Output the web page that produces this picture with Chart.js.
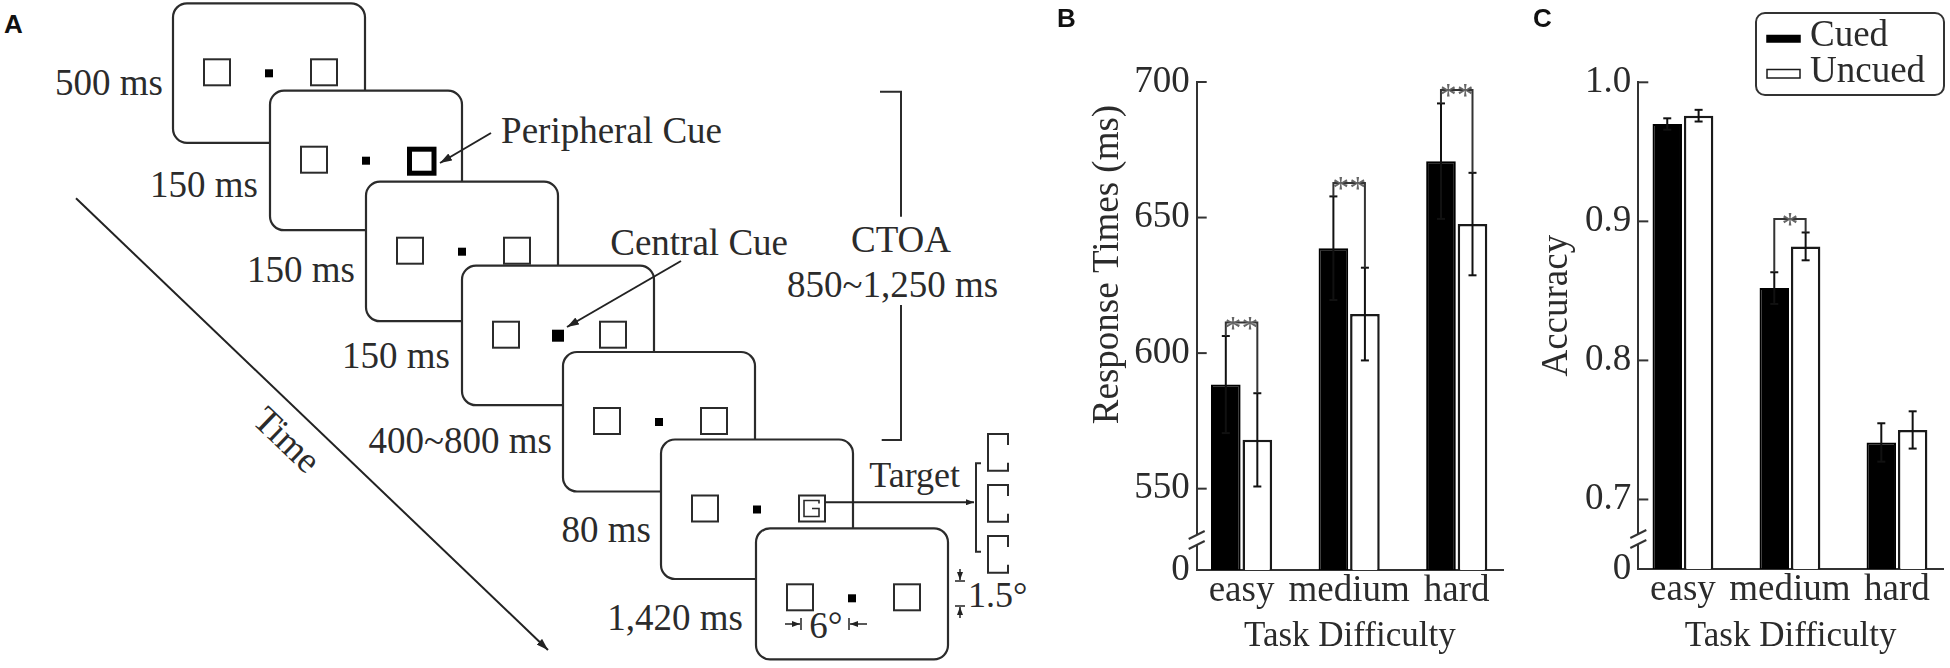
<!DOCTYPE html>
<html>
<head>
<meta charset="utf-8">
<title>Cueing task: response times and accuracy</title>
<script src="https://cdn.jsdelivr.net/npm/chart.js@4.4.1/dist/chart.umd.min.js"></script>
<style>
  html, body { margin: 0; padding: 0; background: #fff; }
  #fig { position: relative; width: 1950px; height: 668px; overflow: hidden; }
  #fig canvas, #fig svg { position: absolute; top: 0; }
  .tag { position: absolute; font: bold 26px 'Liberation Sans', Arial, sans-serif; line-height: 26px; color: #111; }
</style>
</head>
<body>
<div id="fig">
  <svg id="schema" width="1040" height="668" style="left:0"></svg>
  <canvas id="rtChart" width="470" height="668" style="left:1040px"></canvas>
  <canvas id="accChart" width="440" height="668" style="left:1510px"></canvas>
  <div class="tag" style="left:4px;top:11px">A</div>
  <div class="tag" style="left:1057px;top:5px">B</div>
  <div class="tag" style="left:1533px;top:5px">C</div>
</div>
<script>
// values
var categories = ['easy', 'medium', 'hard'];
var seriesNames = ['Cued', 'Uncued'];

var rtCued = [588.4, 638.7, 670.8];
var rtUncued = [568.0, 614.4, 647.6];
var rtCuedErr = [17.9, 19.1, 21.3];
var rtUncuedErr = [17.2, 17.1, 18.9];
var rtSig = ['**', '**', '**'];
var rtTicks = [550, 600, 650, 700];

var accCued = [0.970, 0.852, 0.741];
var accUncued = [0.976, 0.882, 0.750];
var accCuedErr = [0.0041, 0.0114, 0.0138];
var accUncuedErr = [0.0042, 0.0100, 0.0134];
var accSig = ['', '*', ''];
var accTicks = [0.7, 0.8, 0.9, 1.0];

var SERIF = "'Liberation Serif', 'Times New Roman', serif";
var INK = '#2b2b2b';
var AXIS = '#333';

function stroke(ctx, pts) {
  ctx.beginPath();
  ctx.moveTo(pts[0], pts[1]);
  for (var k = 2; k < pts.length; k += 2) ctx.lineTo(pts[k], pts[k + 1]);
  ctx.stroke();
}

// error bars, inner ticks, brackets, axis break, y title, legend
function decorations(p) {
  return {
    id: 'decorations',
    afterDatasetsDraw: function (chart) {
      var ctx = chart.ctx, ys = chart.scales.y, area = chart.chartArea;
      var means = [p.cued, p.uncued], errs = [p.cuedErr, p.uncuedErr];
      var bars = [chart.getDatasetMeta(0).data, chart.getDatasetMeta(1).data];
      ctx.save();
      ctx.lineWidth = 2;
      ctx.strokeStyle = AXIS;

      p.ticks.forEach(function (v) {
        var py = ys.getPixelForValue(v);
        stroke(ctx, [area.left, py, area.left + 10, py]);
      });

      ctx.strokeStyle = '#111';
      for (var d = 0; d < 2; d++) {
        for (var i = 0; i < bars[d].length; i++) {
          var x = bars[d][i].x;
          var hi = ys.getPixelForValue(means[d][i] + errs[d][i]);
          var lo = ys.getPixelForValue(means[d][i] - errs[d][i]);
          stroke(ctx, [x, hi, x, lo]);
          stroke(ctx, [x - 4, hi, x + 4, hi]);
          stroke(ctx, [x - 4, lo, x + 4, lo]);
        }
      }

      p.sig.forEach(function (s, i) {
        if (!s) return;
        var x0 = bars[0][i].x, x1 = bars[1][i].x;
        var t0 = ys.getPixelForValue(p.cued[i] + p.cuedErr[i]);
        var t1 = ys.getPixelForValue(p.uncued[i] + p.uncuedErr[i]);
        var top = Math.min(t0, t1) - 13.5;
        ctx.strokeStyle = AXIS;
        stroke(ctx, [x0, t0, x0, top, x1, top, x1, t1]);
        ctx.fillStyle = '#666';
        ctx.font = '34px ' + SERIF;
        ctx.textAlign = 'center';
        ctx.textBaseline = 'alphabetic';
        ctx.fillText(s, (x0 + x1) / 2, top + 16);
      });

      // broken axis mark
      var bx = area.left, b0 = area.bottom - 35, b1 = area.bottom - 25;
      ctx.fillStyle = '#fff';
      ctx.fillRect(bx - 3, b0, 6, b1 - b0);
      ctx.strokeStyle = AXIS;
      stroke(ctx, [bx - 8, b0 + 4, bx + 8, b0 - 4]);
      stroke(ctx, [bx - 8, b1 + 4, bx + 8, b1 - 4]);

      ctx.save();
      ctx.translate(p.yTitle.x, p.yTitle.y);
      ctx.rotate(-Math.PI / 2);
      ctx.font = '37px ' + SERIF;
      ctx.fillStyle = INK;
      ctx.textAlign = 'center';
      ctx.textBaseline = 'middle';
      ctx.fillText(p.yTitle.text, 0, 0);
      ctx.restore();

      if (p.legend) {
        var L = p.legend;
        ctx.strokeStyle = AXIS;
        ctx.lineWidth = 2;
        ctx.beginPath();
        if (ctx.roundRect) ctx.roundRect(L.x, L.y, L.w, L.h, 9); else ctx.rect(L.x, L.y, L.w, L.h);
        ctx.stroke();
        ctx.font = '37px ' + SERIF;
        ctx.textAlign = 'left';
        ctx.textBaseline = 'alphabetic';
        chart.data.datasets.forEach(function (ds, k) {
          var r = L.rows[k];
          ctx.fillStyle = ds.backgroundColor;
          ctx.fillRect(L.swX, r.sy, L.swW, r.sh);
          ctx.lineWidth = 1.5;
          ctx.strokeStyle = ds.borderColor;
          ctx.strokeRect(L.swX, r.sy, L.swW, r.sh);
          ctx.fillStyle = INK;
          ctx.fillText(ds.label, L.tx, r.ty);
        });
      }
      ctx.restore();
    }
  };
}

function makePanel(id, p) {
  return new Chart(document.getElementById(id), {
    type: 'bar',
    data: {
      datasets: [
        { label: seriesNames[0], data: p.cued.map(function (v, i) { return { x: i, y: v }; }),
          backgroundColor: '#000', borderColor: '#000', borderWidth: 2 },
        { label: seriesNames[1], data: p.uncued.map(function (v, i) { return { x: i, y: v }; }),
          backgroundColor: '#fff', borderColor: '#1a1a1a', borderWidth: 2.5 }
      ]
    },
    options: {
      responsive: false,
      animation: false,
      devicePixelRatio: 1,
      categoryPercentage: 0.586,
      barPercentage: 0.94,
      layout: { padding: { top: p.top, right: p.right, left: 0, bottom: 0 } },
      plugins: { legend: { display: false }, tooltip: { enabled: false } },
      scales: {
        x: {
          type: 'linear', min: -0.417, max: 2.43, offset: false,
          grid: { display: false, drawTicks: false },
          border: { color: AXIS, width: 2 },
          afterBuildTicks: function (s) { s.ticks = categories.map(function (c, i) { return { value: i }; }); },
          afterFit: function (s) { s.height = p.axisH; },
          ticks: {
            autoSkip: false, maxRotation: 0, padding: 0, color: INK,
            font: { family: SERIF, size: 37, lineHeight: 1.15 },
            callback: function (v) { return categories[v]; }
          },
          title: {
            display: true, text: 'Task Difficulty', color: INK,
            font: { family: SERIF, size: 35, lineHeight: 1.2 },
            padding: { top: 0, bottom: 10.5 }
          }
        },
        y: {
          min: p.min, max: p.max, beginAtZero: false,
          grid: { display: false, drawTicks: false },
          border: { color: AXIS, width: 2 },
          afterBuildTicks: function (s) { s.ticks = [p.min].concat(p.ticks).map(function (v) { return { value: v }; }); },
          afterFit: function (s) { s.width = p.axisW; },
          ticks: {
            padding: 7, color: INK, font: { family: SERIF, size: 37 },
            callback: function (v) { return v === p.min ? '0' : p.fmt(v); }
          }
        }
      }
    },
    plugins: [decorations(p)]
  });
}

makePanel('rtChart', {
  cued: rtCued, uncued: rtUncued, cuedErr: rtCuedErr, uncuedErr: rtUncuedErr,
  sig: rtSig, ticks: rtTicks, min: 520, max: 700,
  fmt: function (v) { return String(v); },
  top: 82, right: 7, axisW: 156.7, axisH: 98,
  yTitle: { text: 'Response Times (ms)', x: 68, y: 264.5 }
});

makePanel('accChart', {
  cued: accCued, uncued: accUncued, cuedErr: accCuedErr, uncuedErr: accUncuedErr,
  sig: accSig, ticks: accTicks, min: 0.65, max: 1.0,
  fmt: function (v) { return v.toFixed(1); },
  top: 82.3, right: 7, axisW: 128.3, axisH: 99,
  yTitle: { text: 'Accuracy', x: 47.5, y: 305.7 },
  legend: { x: 246, y: 13, w: 188, h: 82, swX: 257, swW: 33, tx: 300,
            rows: [{ sy: 35.5, sh: 6.5, ty: 46 }, { sy: 69.5, sh: 8.5, ty: 82 }] }
});

// panel A: trial sequence schematic
var screens = [
  { x: 173, y: 3.3, label: '500 ms', lx: 163, ly: 95 },
  { x: 270, y: 90.7, label: '150 ms', lx: 258, ly: 196.7, mark: 'peripheral' },
  { x: 366, y: 181.7, label: '150 ms', lx: 355, ly: 281.7 },
  { x: 462, y: 265.7, label: '150 ms', lx: 450, ly: 367.7, mark: 'central' },
  { x: 563, y: 352, label: '400~800 ms', lx: 552, ly: 453 },
  { x: 661, y: 439.5, label: '80 ms', lx: 651, ly: 541.7, mark: 'target' },
  { x: 756, y: 528.3, h: 131, label: '1,420 ms', lx: 743, ly: 630 }
];

(function drawSchema() {
  var out = [];
  var LN = ' stroke="#2b2b2b" stroke-width="2" fill="none"';
  var TXT = ' font-family="Liberation Serif, Times New Roman, serif" fill="#2b2b2b"';
  out.push('<defs>' +
    '<marker id="head" viewBox="0 0 12 8" refX="12" refY="4" markerWidth="12" markerHeight="8" markerUnits="userSpaceOnUse" orient="auto"><path d="M0,0 L12,4 L0,8 z" fill="#222"/></marker>' +
    '<marker id="headS" viewBox="0 0 8 6" refX="8" refY="3" markerWidth="8" markerHeight="6" markerUnits="userSpaceOnUse" orient="auto"><path d="M0,0 L8,3 L0,6 z" fill="#222"/></marker>' +
    '</defs>');
  screens.forEach(function (s) {
    var h = s.h || 139.5;
    out.push('<rect x="' + s.x + '" y="' + s.y + '" width="192" height="' + h + '" rx="14" fill="#fff" stroke="#2b2b2b" stroke-width="2.2"/>');
    out.push('<rect x="' + (s.x + 31) + '" y="' + (s.y + 56) + '" width="26" height="26"' + LN + '/>');
    var dot = s.mark === 'central' ? 12 : 8;
    out.push('<rect x="' + (s.x + 96 - dot / 2) + '" y="' + (s.y + 70 - dot / 2) + '" width="' + dot + '" height="' + dot + '" fill="#000"/>');
    if (s.mark === 'peripheral') {
      out.push('<rect x="' + (s.x + 139.5) + '" y="' + (s.y + 58.5) + '" width="24.5" height="24" stroke="#000" stroke-width="5" fill="none"/>');
    } else {
      out.push('<rect x="' + (s.x + 138) + '" y="' + (s.y + 56) + '" width="26" height="26"' + LN + '/>');
    }
    if (s.mark === 'target') {
      var tx = s.x + 138, ty = s.y + 56;
      out.push('<path d="M' + (tx + 20) + ',' + (ty + 8) + ' V' + (ty + 5) + ' H' + (tx + 5) + ' V' + (ty + 21) + ' H' + (tx + 20) + ' V' + (ty + 13) + ' H' + (tx + 13) + '" stroke="#2b2b2b" stroke-width="1.6" fill="none"/>');
    }
    out.push('<text x="' + s.lx + '" y="' + s.ly + '" font-size="37" text-anchor="end"' + TXT + '>' + s.label + '</text>');
  });

  // cue annotations
  out.push('<text x="722" y="143.3" font-size="37" text-anchor="end"' + TXT + '>Peripheral Cue</text>');
  out.push('<line x1="491" y1="133" x2="440" y2="163" stroke="#222" stroke-width="2" marker-end="url(#head)"/>');
  out.push('<text x="788" y="255" font-size="37" text-anchor="end"' + TXT + '>Central Cue</text>');
  out.push('<line x1="681" y1="261" x2="567" y2="327" stroke="#222" stroke-width="2" marker-end="url(#head)"/>');

  // CTOA bracket
  out.push('<path d="M880,91.7 H901 V216.7" ' + LN + '/>');
  out.push('<path d="M901,305 V440 H881.7" ' + LN + '/>');
  out.push('<text x="901" y="251.7" font-size="37" text-anchor="middle"' + TXT + '>CTOA</text>');
  out.push('<text x="892.5" y="296.7" font-size="37" text-anchor="middle"' + TXT + '>850~1,250 ms</text>');

  // time arrow
  out.push('<line x1="76" y1="198.3" x2="548" y2="650" stroke="#222" stroke-width="2" marker-end="url(#head)"/>');
  out.push('<text transform="translate(287,440) rotate(43.7)" x="0" y="12" font-size="37" text-anchor="middle"' + TXT + '>Time</text>');

  // target alternatives
  out.push('<text x="869.3" y="486.7" font-size="36"' + TXT + '>Target</text>');
  out.push('<line x1="825" y1="502.3" x2="974" y2="502.3" stroke="#222" stroke-width="2" marker-end="url(#headS)"/>');
  out.push('<path d="M981,463.3 H976 V551.7 H981"' + LN + '/>');
  [434, 485, 536].forEach(function (t) {
    var b = t + 36.7;
    out.push('<path d="M1008,' + (t + 11) + ' V' + t + ' H988 V' + b + ' H1008 V' + (b - 8) + '"' + LN + '/>');
  });

  // visual angle annotations
  out.push('<line x1="785" y1="624" x2="800" y2="624" stroke="#222" stroke-width="1.5" marker-end="url(#headS)"/>');
  out.push('<line x1="801" y1="618" x2="801" y2="630" stroke="#222" stroke-width="1.5"/>');
  out.push('<line x1="867" y1="624" x2="850" y2="624" stroke="#222" stroke-width="1.5" marker-end="url(#headS)"/>');
  out.push('<line x1="849" y1="618" x2="849" y2="630" stroke="#222" stroke-width="1.5"/>');
  out.push('<text x="826" y="638" font-size="37" text-anchor="middle"' + TXT + '>6°</text>');
  out.push('<line x1="960" y1="569" x2="960" y2="580" stroke="#222" stroke-width="1.5" marker-end="url(#headS)"/>');
  out.push('<line x1="955" y1="581" x2="965" y2="581" stroke="#222" stroke-width="1.5"/>');
  out.push('<line x1="960" y1="618" x2="960" y2="607" stroke="#222" stroke-width="1.5" marker-end="url(#headS)"/>');
  out.push('<line x1="955" y1="606" x2="965" y2="606" stroke="#222" stroke-width="1.5"/>');
  out.push('<text x="968" y="606.7" font-size="36"' + TXT + '>1.5°</text>');

  document.getElementById('schema').innerHTML = out.join('');
})();
</script>
</body>
</html>
